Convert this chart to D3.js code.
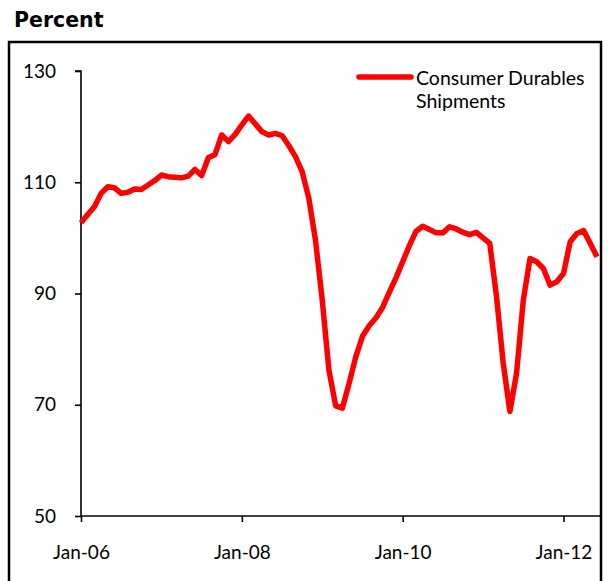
<!DOCTYPE html>
<html>
<head>
<meta charset="utf-8">
<script src="https://cdn.jsdelivr.net/npm/d3@7/dist/d3.min.js"></script>
<style>
  html, body { margin: 0; padding: 0; background: #fff; }
  svg { display: block; }
  .tick text { font-family: Lato, "Open Sans", sans-serif; font-size: 19px; fill: #000; }
</style>
</head>
<body>
<script>
// Monthly shipments index, Jan 2006 – Jun 2012
const startYear = 2006;
const shipments = [
  102.7, 104.2, 105.6, 108.0, 109.2, 109.0, 108.0, 108.2, 108.8, 108.7, 109.5, 110.3,
  111.3, 111.0, 110.9, 110.8, 111.1, 112.3, 111.2, 114.4, 115.0, 118.5, 117.3, 118.6,
  120.3, 121.9, 120.5, 119.1, 118.5, 118.8, 118.4, 116.6, 114.6, 111.9, 107.1, 99.5,
  88.8, 76.2, 69.8, 69.4, 73.8, 78.6, 82.3, 84.2, 85.6, 87.5, 90.2, 92.8,
  95.7, 98.6, 101.2, 102.1, 101.5, 100.9, 100.9, 102.0, 101.6, 101.0, 100.6, 101.0,
  100.0, 99.0, 89.5, 77.5, 68.8, 75.7, 88.8, 96.3, 95.7, 94.5, 91.5, 92.1,
  93.6, 99.3, 100.8, 101.3, 99.0, 96.6
];
const seriesName = ["Consumer Durables", "Shipments"];
const yTicks = [50, 70, 90, 110, 130];
const xTickMonths = [0, 24, 48, 72];
const xTickLabels = ["Jan-06", "Jan-08", "Jan-10", "Jan-12"];
const unitLabel = "Percent";

const W = 608, H = 581;
const svg = d3.select("body").append("svg").attr("width", W).attr("height", H);

// Outer frame
svg.append("rect")
  .attr("x", 9).attr("y", 42).attr("width", 592).attr("height", 560)
  .attr("fill", "none").attr("stroke", "#000").attr("stroke-width", 2.5);

svg.append("text")
  .attr("x", 14).attr("y", 27)
  .attr("font-family", "'DejaVu Sans', sans-serif")
  .attr("font-weight", "bold").attr("font-size", 20.5)
  .text(unitLabel);

const x = d3.scaleLinear().domain([0, shipments.length - 1]).range([81, 597]);
const y = d3.scaleLinear().domain([50, 130]).range([516, 71]);

// Axes
const yAxis = d3.axisLeft(y).tickValues(yTicks).tickSize(6).tickPadding(19).tickFormat(d3.format("d"));
const gy = svg.append("g").attr("transform", "translate(81,0)").call(yAxis);
gy.select(".domain").attr("stroke-width", 1.6).attr("d", `M-6,${y(130)}H0V${y(50)}`);
gy.selectAll(".tick line").attr("stroke-width", 1.6);

const xAxis = d3.axisBottom(x).tickValues(xTickMonths).tickSize(6).tickPadding(24)
  .tickFormat((d, i) => xTickLabels[i]);
const gx = svg.append("g").attr("transform", `translate(0,${y(50)})`).call(xAxis);
gx.select(".domain").attr("stroke-width", 1.6).attr("d", `M${x(0)},0H600`);
gx.selectAll(".tick line").attr("stroke-width", 1.6);

// Series line
const line = d3.line().x((d, i) => x(i)).y(d => y(d));
svg.append("path")
  .datum(shipments)
  .attr("d", line)
  .attr("fill", "none")
  .attr("stroke", "#ff0000")
  .attr("stroke-width", 5.5)
  .attr("stroke-linejoin", "round");

// Legend
const lg = svg.append("g");
lg.append("line")
  .attr("x1", 359).attr("x2", 411).attr("y1", 77).attr("y2", 77)
  .attr("stroke", "#ff0000").attr("stroke-width", 5.5).attr("stroke-linecap", "round");
lg.selectAll("text").data(seriesName).enter().append("text")
  .attr("x", 416).attr("y", (d, i) => 85 + i * 23)
  .attr("font-family", "Lato, 'Open Sans', sans-serif").attr("font-size", 19.5)
  .text(d => d);
</script>
</body>
</html>
